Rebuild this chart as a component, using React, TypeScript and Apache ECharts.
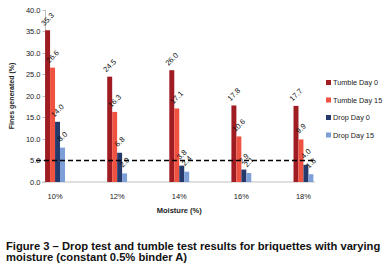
import React, { useEffect, useRef } from "react";
import * as echarts from "echarts";

const categories = ["10%", "12%", "14%", "16%", "18%"];
const tumbleDay0 = [35.3, 24.5, 26.0, 17.8, 17.7];
const tumbleDay15 = [26.6, 16.3, 17.1, 10.6, 9.9];
const dropDay0 = [14.0, 6.8, 3.8, 2.9, 4.0];
const dropDay15 = [8.0, 2.0, 2.4, 2.1, 1.8];
const yTicks = { min: 0, max: 40, interval: 5 };
const threshold = 5.0;
const seriesNames = ["Tumble Day 0", "Tumble Day 15", "Drop Day 0", "Drop Day 15"];
const seriesColors = ["#9E1C22", "#EF5240", "#253A6B", "#7D9FD8"];
const caption =
  "Figure 3 \u2013 Drop test and tumble test results for briquettes with varying\nmoisture (constant 0.5% binder A)";

const FONT = "'Liberation Sans', Arial, sans-serif";

export default function App() {
  const ref = useRef<HTMLDivElement>(null);
  useEffect(() => {
    if (!ref.current) return;
    const chart = echarts.init(ref.current, null, { renderer: "svg" });
    const allData = [tumbleDay0, tumbleDay15, dropDay0, dropDay15];
    const gridLeft = 20.5;
    const gridRight = 51.5;
    const gridTop = 10;
    const gridBottom = 92;
    chart.setOption({
      animation: false,
      textStyle: { fontFamily: FONT },
      title: {
        text: caption,
        left: 1,
        top: 235,
        textStyle: {
          fontSize: 11.2,
          fontWeight: "bold",
          color: "#111",
          lineHeight: 11,
          fontFamily: FONT,
        },
      },
      legend: {
        orient: "vertical",
        left: 321,
        top: 74,
        itemWidth: 5,
        itemHeight: 5,
        itemGap: 10.5,
        icon: "rect",
        data: seriesNames,
        textStyle: { fontSize: 7.3, color: "#222", padding: [0, 0, 0, -3] },
      },
      grid: { left: gridLeft, right: gridRight, top: gridTop, bottom: gridBottom },
      xAxis: {
        type: "category",
        data: categories,
        axisLine: { show: false },
        axisTick: { show: false },
        axisLabel: { fontSize: 7.5, color: "#222", margin: 10 },
        name: "Moisture (%)",
        nameLocation: "middle",
        nameGap: 24,
        nameTextStyle: { fontSize: 7.5, fontWeight: "bold", color: "#222" },
      },
      yAxis: {
        type: "value",
        min: yTicks.min,
        max: yTicks.max,
        interval: yTicks.interval,
        offset: -21.5,
        axisLine: { show: true, lineStyle: { color: "#bfbfbf", width: 1 } },
        axisTick: { show: true, length: 3, lineStyle: { color: "#bfbfbf" } },
        splitLine: { show: false },
        axisLabel: {
          fontSize: 7.5,
          color: "#222",
          margin: 5,
          formatter: (v: number) => v.toFixed(1),
        },
        name: "Fines generated (%)",
        nameLocation: "middle",
        nameGap: 25,
        nameTextStyle: { fontSize: 7, fontWeight: "bold", color: "#222" },
      },
      series: seriesNames.map((name, i) => ({
        name,
        type: "bar",
        data: allData[i],
        barGap: "0%",
        barCategoryGap: "68%",
        itemStyle: { color: seriesColors[i] },
        label: {
          show: true,
          position: "top",
          rotate: 45,
          distance: 11,
          align: "center",
          verticalAlign: "middle",
          fontSize: 7.5,
          color: "#111",
          formatter: (p: any) => Number(p.value).toFixed(1),
        },
      })),
    });
    const y0 = chart.convertToPixel({ yAxisIndex: 0 }, 0) as number;
    const yT = chart.convertToPixel({ yAxisIndex: 0 }, threshold) as number;
    chart.setOption({
      graphic: [
        {
          type: "line",
          shape: { x1: 42, y1: y0, x2: 315, y2: y0 },
          style: { stroke: "#bfbfbf", lineWidth: 1 },
          silent: true,
        },
        {
          type: "line",
          z: 100,
          shape: { x1: 36, y1: yT, x2: 313, y2: yT },
          style: { stroke: "#000", lineWidth: 1.6, lineDash: [5, 3] },
          silent: true,
        },
      ],
    });
    return () => chart.dispose();
  }, []);
  return (
    <div
      ref={ref}
      style={{ position: "fixed", left: 0, top: 0, width: 386, height: 274, background: "#fff" }}
    />
  );
}
